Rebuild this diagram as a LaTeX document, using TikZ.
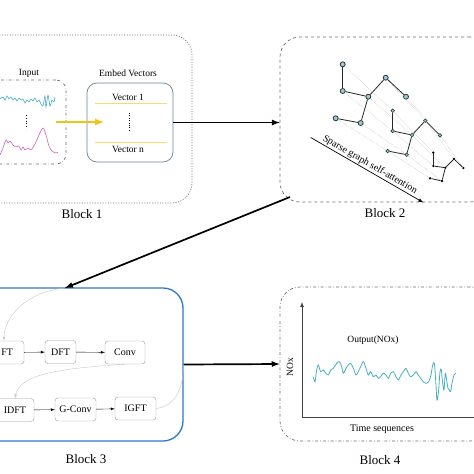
\documentclass[tikz,border=0pt]{standalone}
\usepackage{fontspec}
\setmainfont{Liberation Serif}
\usetikzlibrary{arrows,positioning}

\definecolor{sigcyan}{RGB}{70,175,195}
\definecolor{sigpink}{RGB}{205,100,170}
\definecolor{embyellow}{RGB}{240,195,20}
\definecolor{linegray}{RGB}{110,110,110}
\definecolor{boxblue}{RGB}{45,120,200}
\definecolor{embgray}{RGB}{110,130,150}

\begin{document}
\begin{tikzpicture}[x=1pt,y=-1pt,>=latex,
  every node/.style={font=\fontsize{9.5}{11}\selectfont},
  blk/.style={draw=linegray,rounded corners=20pt,inner sep=0pt,line width=0.7pt},
  lbl/.style={font=\fontsize{13}{15}\selectfont},
  proc/.style={draw=linegray!70,rounded corners=3pt,minimum height=23pt,inner sep=2pt,font=\fontsize{10}{12}\selectfont},
  layA/.style={circle,draw=black!80,fill=sigcyan!60,inner sep=0pt,minimum size=5pt,line width=0.8pt},
  layB/.style={circle,draw=black!80,fill=sigcyan!60,inner sep=0pt,minimum size=3.6pt,line width=0.6pt},
  layC/.style={circle,fill=black,inner sep=0pt,minimum size=2.6pt},
  link/.style={line width=0.8pt,black!85},
  ghost/.style={densely dotted,gray!70,thin},
  flow/.style={->,line width=1.7pt},
  back/.style={->,gray!45,thin}]
  \useasboundingbox (0,0) rectangle (474,474);
  \clip (0,0) rectangle (474,474);

  % blocks
  \node[blk,dash pattern=on 1pt off 1.6pt,minimum width=212pt,minimum height=168pt] (blk1) at (86,119) {};
  \node[blk,dashed,minimum width=210pt,minimum height=165pt] (blk2) at (385,119.5) {};
  \node[blk,draw=boxblue,line width=1.3pt,minimum width=208pt,minimum height=153pt] (blk3) at (79,364.5) {};
  \node[blk,dash dot,minimum width=210pt,minimum height=154pt] (blk4) at (385,364) {};
  \node[lbl] (lbl1) at (82,214) {Block 1};
  \node[lbl] (lbl2) at (385,213) {Block 2};
  \node[lbl] (lbl3) at (86,459) {Block 3};
  \node[lbl] (lbl4) at (380,460) {Block 4};

  % block 1: input and embedding
  \node[draw=linegray,dash dot,line width=0.7pt,rounded corners=10pt,minimum width=86pt,minimum height=84pt] (inbox) at (23,122) {};
  \node (inlbl) at (29,73) {Input};
  \draw[sigcyan,line width=0.6pt] plot[smooth,tension=0.5] coordinates {(0,99) (3,97) (5,100) (7,96) (9,99) (11,97) (13,100) (15,98) (17,101) (19,98) (21,100) (23,99) (25,103) (27,100) (29,102) (31,99) (33,101) (35,98) (37,102) (39,100) (41,104) (43,106) (45,96) (46,107) (48,95) (50,106) (52,100) (54,102) (55,97)};
  \draw[dotted,thick] (26,115) -- (26,129);
  \draw[sigpink,line width=0.6pt] plot[smooth,tension=0.5] coordinates {(0,155) (3,148) (6,140) (8,143) (10,141) (13,145) (16,147) (19,146) (21,150) (23,147) (25,150) (28,148) (31,150) (35,144) (39,135) (43,128) (46,135) (49,146) (52,151) (56,153) (58,152)};
  \node[draw=embgray,line width=0.7pt,rounded corners=10pt,minimum width=86pt,minimum height=79pt] (emb) at (130,122.5) {};
  \node (emblbl) at (128,73) {Embed Vectors};
  \node (vec1) at (128,97) {Vector 1};
  \node (vecn) at (128,149) {Vector n};
  \draw[embyellow!60] (95,103) -- (167,103);
  \draw[embyellow!60] (95,142) -- (167,142);
  \draw[dotted] (129,113) -- (129,130);
  \coordinate (yA) at (56,122);
  \coordinate (yB) at (104,122);
  \draw[->,embyellow,line width=2pt] (yA) -- (yB);

  % block 2: sparse graph
  \foreach \n/\x/\y in {1/342.7/64.3,2/342.7/91,3/368.3/96.7,4/385.7/77.7,5/406/96.7,6/335.7/118.3,7/360.7/123}
    \node[layA] (a\n) at (\x,\y) {};
  \foreach \n/\x/\y in {1/392.7/110.7,2/392.7/131,3/412/135,4/425.3/120.7,5/440/135.3,6/387.7/151,7/406.7/154.7}
    \node[layB] (b\n) at (\x,\y) {};
  \foreach \n/\x/\y in {1/433.3/152.7,2/433.3/166,3/445.3/167.7,4/454/159,5/463.3/168,6/430/178.3,7/442/181}
    \node[layC] (c\n) at (\x,\y) {};
  \foreach \n in {1,...,7}
    \draw[ghost] (a\n) -- (b\n) -- (c\n);
  \foreach \l in {a,b,c}
    \path[link] (\l1) edge (\l2) (\l2) edge (\l3) (\l3) edge (\l4)
      (\l4) edge (\l5) (\l3) edge (\l7) (\l7) edge (\l6);
  \coordinate (sgA) at (310.7,137.5);
  \coordinate (sgB) at (423.3,202.5);
  \draw[->,line width=0.7pt] (sgA) -- node[sloped,above,inner sep=1pt,font=\fontsize{10}{12}\selectfont] {Sparse graph self-attention} (sgB);

  % block 3: spectral path
  \node[proc,minimum width=48pt,text width=26pt,align=right] (gft) at (0,352.5) {FT};
  \node[proc,minimum width=31pt] (dft) at (60.5,352) {DFT};
  \node[proc,minimum width=40pt] (conv) at (125,352.5) {Conv};
  \node[proc,minimum width=38pt] (idft) at (15,410) {IDFT};
  \node[proc,minimum width=41pt] (gconv) at (75.5,409.5) {G-Conv};
  \node[proc,minimum width=41pt] (igft) at (135.5,408.5) {IGFT};
  \path[->,thin] (gft) edge (dft) (dft) edge (conv)
    (idft) edge (gconv) (gconv) edge (igft);
  \coordinate (b3in) at (65,288);
  \draw[back] (b3in) .. controls (25,292) and (4,318) .. ([xshift=4pt]gft.north);
  \draw[back] (conv.south) .. controls (70,368) and (20,372) .. (idft.north);
  \draw[gray!45,thin] (igft.east) .. controls (175,406) and (183,390) .. (blk3.east);

  % block 4: output
  \coordinate (ax0) at (302,417);
  \draw[->,black!75,line width=0.7pt] (ax0) -- (302,302);
  \draw[->,black!75,line width=0.7pt] (ax0) -- (490,417);
  \node[rotate=90] (nox) at (290,367) {NOx};
  \node (outlbl) at (373,340) {Output(NOx)};
  \node[font=\fontsize{10}{12}\selectfont] (tlbl) at (382,429) {Time sequences};
  \begin{scope}[shift={(300,340)},x=0.3333pt,y=-0.3333pt]
    \draw[sigcyan,line width=0.8pt] plot[smooth,tension=0.5] coordinates {(40,110) (45,125) (50,90) (55,75) (62,95) (70,90) (78,100) (85,105) (92,90) (100,85) (110,70) (118,65) (125,80) (130,100) (138,85) (145,75) (152,70) (160,85) (168,105) (175,95) (182,80) (190,65) (198,85) (205,105) (212,95) (220,110) (228,105) (235,115) (242,110) (250,100) (258,105) (265,115) (272,100) (280,95) (288,110) (295,120) (303,105) (310,95) (318,85) (325,100) (332,110) (340,105) (348,95) (355,105) (362,115) (370,125) (378,130) (386,125) (393,105) (398,75) (403,70) (407,120) (411,180) (416,150) (420,95) (424,90) (428,130) (432,150) (436,100) (440,120) (444,145) (448,150) (452,155) (456,130) (462,105) (468,100)};
  \end{scope}

  % connections between blocks
  \coordinate (b2out) at (290,197);
  \draw[flow] (emb.east) -- (emb.east -| blk2.west);
  \draw[flow] (b2out) -- (b3in);
  \draw[flow] (blk3.east) -- (blk4.west);
\end{tikzpicture}
\end{document}
